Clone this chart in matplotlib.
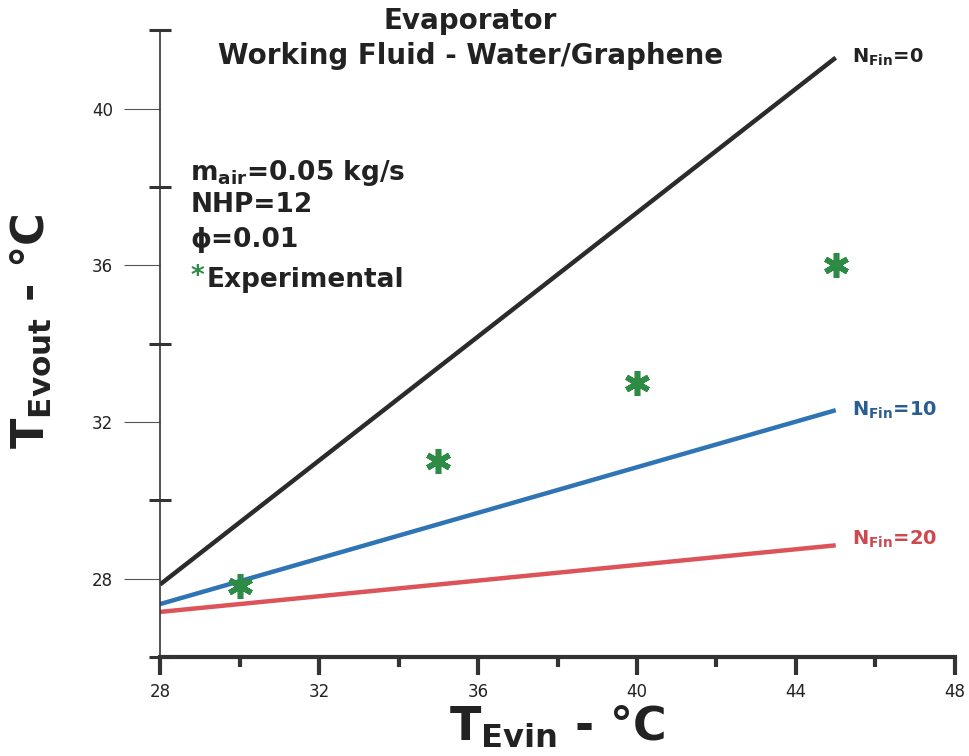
import matplotlib
matplotlib.use('Agg')
import matplotlib.pyplot as plt

plt.rcParams['font.family'] = ['DejaVu Sans']
plt.rcParams['mathtext.fontset'] = 'dejavusans'

# model lines (inlet temp vs outlet temp)
t_in = [28, 45]
nfin_0 = [27.85, 41.3]
nfin_10 = [27.35, 32.3]
nfin_20 = [27.15, 28.85]

# experimental points
exp_in = [30, 35, 40, 45]
exp_out = [27.8, 31.0, 33.0, 36.0]

x_ticks = [28, 32, 36, 40, 44, 48]
y_ticks = [28, 32, 36, 40]

black = '#2b2b2b'
blue = '#2f74b5'
red = '#dc5459'
green = '#2e8b45'
txt = '#222222'

fig = plt.figure(figsize=(9.7, 7.56), dpi=100)
ax = fig.add_axes([0.165, 0.131, 0.8195, 0.829])

ax.plot(t_in, nfin_0, color=black, lw=3.2, solid_capstyle='butt')
ax.plot(t_in, nfin_10, color=blue, lw=3.2, solid_capstyle='butt')
ax.plot(t_in, nfin_20, color=red, lw=3.2, solid_capstyle='butt')
ax.plot(exp_in, exp_out, ls='none', marker=(6, 2, 0), markersize=18,
        mew=4, color=green, markeredgecolor=green)

ax.set_xlim(28, 48)
ax.set_ylim(26, 42)
ax.set_xticks(x_ticks)
ax.set_xticks([30, 34, 38, 42, 46], minor=True)
ax.set_yticks(y_ticks)
ax.set_yticks([26, 30, 34, 38, 42], minor=True)

for s in ['top', 'right']:
    ax.spines[s].set_visible(False)
ax.spines['bottom'].set_linewidth(3)
ax.spines['left'].set_linewidth(1.2)
ax.spines['left'].set_color('#333333')
ax.spines['bottom'].set_color('#333333')

ax.tick_params(axis='x', which='major', direction='out', length=13, width=3,
               color='#333333', labelsize=12, pad=6, labelcolor=txt)
ax.tick_params(axis='x', which='minor', direction='out', length=7, width=3,
               color='#333333')
ax.tick_params(axis='y', which='major', direction='out', length=26, width=0.8,
               color='#555555', labelsize=12, pad=8, labelcolor=txt)
ax.tick_params(axis='y', which='minor', direction='inout', length=16, width=2.2,
               color='#333333')

fig.text(0.485, 0.972, 'Evaporator', ha='center', va='center',
         fontsize=20, fontweight='bold', color=txt)
fig.text(0.485, 0.926, 'Working Fluid - Water/Graphene', ha='center', va='center',
         fontsize=20, fontweight='bold', color=txt)

ax.text(0.038, 0.773, r'$\mathbf{m_{air}}$=0.05 kg/s', transform=ax.transAxes,
        fontsize=19, fontweight='bold', color=txt, va='center')
ax.text(0.038, 0.721, 'NHP=12', transform=ax.transAxes,
        fontsize=19, fontweight='bold', color=txt, va='center')
ax.text(0.038, 0.665, 'ϕ=0.01', transform=ax.transAxes,
        fontsize=19, fontweight='bold', color=txt, va='center')
ax.text(0.038, 0.606, '*', transform=ax.transAxes,
        fontsize=19, fontweight='bold', color=green, va='center')
ax.text(0.058, 0.601, 'Experimental', transform=ax.transAxes,
        fontsize=19, fontweight='bold', color=txt, va='center')

ax.text(45.4, 41.3, r'$\mathbf{N_{Fin}}$=0', fontsize=14, fontweight='bold',
        color=txt, va='center')
ax.text(45.4, 32.3, r'$\mathbf{N_{Fin}}$=10', fontsize=14, fontweight='bold',
        color='#2a5e91', va='center')
ax.text(45.4, 29.0, r'$\mathbf{N_{Fin}}$=20', fontsize=14, fontweight='bold',
        color='#cc4a4f', va='center')

ax.set_xlabel(r'$\mathbf{T_{Evin}}$ - °C', fontsize=33, fontweight='bold',
              color=txt, labelpad=2)
ax.set_ylabel(r'$\mathbf{T_{Evout}}$ - °C', fontsize=32, fontweight='bold',
              color=txt)
ax.yaxis.set_label_coords(-0.135, 0.52)

fig.savefig('out.png', dpi=100)
